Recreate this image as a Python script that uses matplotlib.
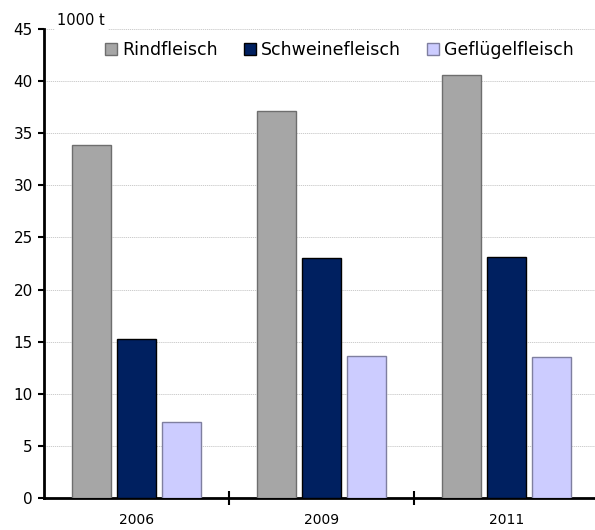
import matplotlib.pyplot as plt
import numpy as np

years = ["2006", "2009", "2011"]
series = ["Rindfleisch", "Schweinefleisch", "Geflügelfleisch"]
rind = [33.9, 37.1, 40.6]
schwein = [15.3, 23.0, 23.1]
gefluegel = [7.3, 13.6, 13.5]

colors = ["#a6a6a6", "#002060", "#ccccff"]
edges = ["#6e6e6e", "#000000", "#7f7f9f"]

plt.rcParams["font.family"] = ["DejaVu Sans"]

fig = plt.figure(figsize=(5.95, 5.3), dpi=100)
ax = fig.add_axes([0.074, 0.0604, 0.933, 0.885])

x = np.arange(len(years))
width = 0.211
step = 0.243
for i, (vals, name) in enumerate(zip([rind, schwein, gefluegel], series)):
    ax.bar(x + (i - 1) * step, vals, width, color=colors[i], edgecolor=edges[i],
           linewidth=1, label=name, zorder=3)

ax.set_xlim(-0.5, 2.5)
ax.set_ylim(0, 45)
ax.set_yticks(range(0, 46, 5))
ax.yaxis.grid(True, color="#c4c4c4", linestyle=(0, (1.5, 1)), linewidth=0.6, zorder=0)

# year labels centred, tick marks at group boundaries
ax.set_xticks([0.5, 1.5])
ax.set_xticklabels([])
ax.tick_params(axis="x", direction="inout", length=10, width=1.5)
ax.set_xticks(x, minor=True)
ax.set_xticklabels(years, minor=True, fontsize=10)
ax.tick_params(axis="x", which="minor", length=0, pad=11)
ax.tick_params(axis="y", direction="out", length=4, width=1.5, labelsize=11, pad=4)

for s in ["top", "right"]:
    ax.spines[s].set_visible(False)
ax.spines["left"].set_linewidth(2)
ax.spines["bottom"].set_linewidth(2)

ax.text(0.024, 1.019, "1000 t", transform=ax.transAxes, fontsize=10.5, va="center",
        zorder=5, bbox=dict(facecolor="white", edgecolor="none", pad=2))

ax.legend(loc="center", bbox_to_anchor=(0.532, 0.955), ncol=3, frameon=False,
          fontsize=12.5, handlelength=0.7, handleheight=0.7, handletextpad=0.3,
          columnspacing=1.5)

fig.savefig("out.png", dpi=100)
